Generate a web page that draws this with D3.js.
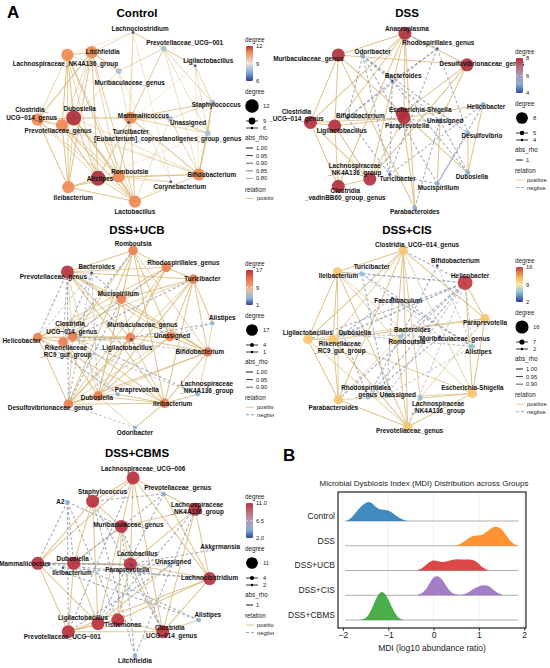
<!DOCTYPE html>
<html>
<head>
<meta charset="utf-8">
<script src="https://cdn.jsdelivr.net/npm/d3@7"></script>
<style>
body{margin:0;background:#fff}
svg{display:block;font-family:"Liberation Sans",Arial,sans-serif}
</style>
</head>
<body>
<svg width="550" height="668"></svg>
<script>
"use strict";

// ---- A: co-occurrence networks. node = [name, layout x, layout y, degree]
var ctlNodes = [
  ["Lachnoclostridium", 0.09, 0.94, 6],
  ["Prevotellaceae_UCG\u2212001", 0.43, 0.76, 8],
  ["Ligilactobacillus", 0.78, 0.57, 6],
  ["Litchfieldia", -0.37, 0.72, 11],
  ["Lachnospiraceae_NK4A136_group", -0.64, 0.69, 11],
  ["Muribaculaceae_genus", -0.07, 0.51, 8],
  ["Staphylococcus", 0.97, 0.16, 8],
  ["Clostridia_\nUCG\u2212014_genus", -0.97, -0.03, 11],
  ["Dubosiella", -0.57, -0.01, 12],
  ["Prevotellaceae_genus", -0.70, -0.09, 11],
  ["Mammaliicoccus", 0.06, -0.01, 11],
  ["Unassigned", 0.50, -0.02, 8],
  ["Turicibacter", 0.04, -0.06, 6],
  ["[Eubacterium]_coprostanoligenes_group_genus", 0.92, -0.18, 8],
  ["Romboutsia", -0.07, -0.66, 11],
  ["Alistipes", -0.30, -0.68, 12],
  ["Bifidobacterium", 0.82, -0.64, 11],
  ["Corynebacterium", 0.51, -0.72, 6],
  ["Ileibacterium", -0.63, -0.78, 11],
  ["Lactobacillus", 0.11, -0.94, 11]
];
var ctlPos = "8-4 8-3:.9 8-7 8-9 8-10:.95 8-14 8-15 8-18:.9 8-19 8-16:.85 8-5:.85 8-11:.8 15-4:.9 15-3 15-7:.95 15-9 15-14 15-18 15-19:.95 15-16 15-10:.9 15-17:.8 15-12:.85 15-13:.8 4-3 4-7:.9 4-9 4-18:.95 4-19:.9 4-14 4-0:.8 4-5:.85 3-0:.85 3-7 3-9:.9 3-18 3-19:.95 3-14:.9 3-5 7-9 7-18 7-19:.9 7-16:.85 9-18 9-19 9-14:.95 9-16:.8 10-0:.85 10-1:.9 10-6 10-11 10-13:.9 10-16 10-19 10-14 14-16:.9 14-18 14-19 14-17:.85 16-1:.85 16-2:.8 16-6 16-13 16-19:.95 16-11:.9 18-19 19-17:.8 19-11:.85 1-2 1-6:.9 1-12:.8 1-13:.85 1-0 2-6:.9 2-13:.85 2-12:.8 6-11:.9 6-13 0-12:.8 0-17:.8 5-1:.9 5-12:.85 5-17:.8 11-13:.95";
var ctlNeg = "";

var dssNodes = [
  ["Anaeroplasma", 0.11, 0.93, 8],
  ["Rhodospirillales_genus", 0.47, 0.76, 4],
  ["Odoribacter", -0.36, 0.68, 5],
  ["Muribaculaceae_genus", -0.63, 0.69, 8],
  ["Desulfovibrionaceae_genus", 0.80, 0.58, 8],
  ["Bacteroides", -0.03, 0.40, 4],
  ["Helicobacter", 0.98, 0.14, 5],
  ["Escherichia-Shigella", 0.08, 0.04, 8],
  ["Paraprevotella", 0.10, -0.01, 8],
  ["Clostridia\n_UCG\u2212014_genus", -0.94, -0.06, 8],
  ["Bifidobacterium", -0.53, -0.01, 4],
  ["Ligilactobacillus", -0.67, -0.10, 8],
  ["Unassigned", 0.50, -0.04, 5],
  ["Desulfovibrio", 0.81, -0.18, 5],
  ["Lachnospiraceae\n_NK4A136_group", -0.28, -0.69, 8],
  ["Turicibacter", -0.06, -0.64, 4],
  ["Dubosiella", 0.81, -0.62, 5],
  ["Mucispirillum", 0.47, -0.74, 5],
  ["Clostridia\n_vadinBB60_group_genus", -0.63, -0.77, 8],
  ["Parabacteroides", 0.22, -1.01, 5]
];
var dssPos = "0-3 0-4 0-9 0-11 0-14 0-18 0-8 3-9 3-11 3-4 3-7 4-7 4-14 4-12 9-11 9-18 9-14 9-8 11-18 11-14 11-8 14-18 14-8 7-8 7-19 7-16 8-6 19-3 6-16 12-17 13-16 0-19";
var dssNeg = "2-5 2-15 2-10 2-17 1-5 1-10 1-13 5-10 5-15 5-16 10-15 10-12 12-16 6-17 6-15 13-17 15-17 19-12 1-15 2-13 0-1 2-12";

var ucbNodes = [
  ["Romboutsia", 0.09, 0.93, 12],
  ["Rhodospirillales_genus", 0.46, 0.74, 12],
  ["Bacteroides", -0.37, 0.68, 1],
  ["Prevotellaceae_genus", -0.64, 0.69, 17],
  ["Turicibacter", 0.76, 0.61, 12],
  ["Mucispirillum", -0.04, 0.39, 12],
  ["Alistipes", 0.97, 0.12, 4],
  ["Clostridia_\nUCG\u2212014_genus", -0.58, -0.03, 12],
  ["Muribaculaceae_genus", 0.06, -0.04, 12],
  ["Ligilactobacillus", 0.07, -0.06, 1],
  ["Unassigned", 0.50, -0.03, 12],
  ["Helicobacter", -0.97, -0.04, 12],
  ["Rikenellaceae\n_RC9_gut_group", -0.69, -0.09, 12],
  ["Bifidobacterium", 0.92, -0.20, 12],
  ["Lachnospiraceae\n_NK4A136_group", 0.81, -0.67, 4],
  ["Paraprevotella", -0.08, -0.67, 4],
  ["Dubosiella", -0.30, -0.69, 12],
  ["Desulfovibrionaceae_genus", -0.63, -0.78, 12],
  ["Ileibacterium", 0.44, -0.77, 12],
  ["Odoribacter", 0.11, -1.04, 4]
];
var ucbPos = "3-0 3-1:.95 3-4 3-5 3-7:.9 3-8 3-10:.95 3-13 3-16:.9 3-18 0-1 0-5:.95 0-7 0-10 0-16:.9 0-17 0-18 0-13:.95 1-4 1-5 1-8:.9 1-11 1-16 1-17:.95 4-5 4-10 4-11:.9 4-13 4-16 4-17:.95 4-18 5-7 5-8 5-11:.9 5-13 5-16 7-11 7-12 7-17:.95 7-18 7-10 8-11:.9 8-12 8-13 8-17 8-18:.95 10-13 10-16 10-17:.9 11-12 11-17 11-18:.95 12-16 13-16:.9 13-17 13-18 16-17 16-18:.95 17-18 19-16:.9 19-18 6-13:.9 6-4 14-13:.9 14-18 15-16:.95 15-18 9-8:.9";
var ucbNeg = "3-11 3-12:.95 3-17 2-11:.9 2-12 2-17:.95 2-5 6-10:.9 6-8 14-12:.9 14-7 15-11 15-12:.95 9-7 19-17:.9 0-12 1-12:.95 4-12 7-13:.9 5-17 2-16:.9";

var cisNodes = [
  ["Clostridia_UCG\u2212014_genus", 0.09, 0.93, 11],
  ["Bifidobacterium", 0.47, 0.76, 2],
  ["Turicibacter", -0.37, 0.67, 6],
  ["Ileibacterium", -0.64, 0.69, 11],
  ["Helicobacter", 0.78, 0.57, 16],
  ["Faecalibaculum", -0.03, 0.40, 2],
  ["Paraprevotella", 1.00, 0.17, 11],
  ["Ligilactobacillus", -0.97, -0.06, 11],
  ["Dubosiella", -0.58, 0.00, 6],
  ["Bacteroides", 0.06, -0.03, 6],
  ["Romboutsia", 0.01, -0.07, 9],
  ["Rikenellaceae\n_RC9_gut_group", -0.69, -0.06, 11],
  ["Muribaculaceae_genus", 0.50, -0.03, 2],
  ["Alistipes", 0.86, -0.14, 6],
  ["Escherichia-Shigella", 0.86, -0.66, 11],
  ["Rhodospirillales\n_genus", -0.30, -0.70, 6],
  ["Unassigned", -0.09, -0.68, 6],
  ["Lachnospiraceae\n_NK4A136_group", 0.28, -0.71, 6],
  ["Parabacteroides", -0.63, -0.73, 11],
  ["Prevotellaceae_genus", 0.14, -1.03, 11]
];
var cisPos = "0-3 0-7 0-11:.95 0-18 0-19 0-14:.9 0-6 0-17:.95 3-7 3-11 3-18:.95 3-19 3-14:.9 7-11 7-18 7-19:.95 7-6:.9 11-18 11-19 11-14:.95 11-6 18-19 18-14:.9 19-14 19-17:.95 6-14 6-17:.9 14-17 10-18:.9 10-0 10-3:.95 10-19 4-6 4-14 2-3:.9 9-10:.95";
var cisNeg = "4-2 4-8:.95 4-9 4-13:.9 4-15 4-16:.95 4-0 4-3:.9 4-7 4-11:.95 4-18 4-19:.9 1-9 1-13:.9 5-8 5-16:.95 12-15 12-2:.9 2-13 8-13:.95 9-15 16-13:.9 2-16 8-15 12-8:.9 5-13";

var cbmsNodes = [
  ["Lachnospiraceae_UCG\u2212006", 0.09, 0.88, 11],
  ["Prevotellaceae_genus", 0.43, 0.70, 4],
  ["Staphylococcus", -0.36, 0.62, 11],
  ["A2", -0.64, 0.61, 4],
  ["Lachnospiraceae\n_NK4A136_group", 0.78, 0.53, 11],
  ["Muribaculaceae_genus", -0.04, 0.34, 11],
  ["Akkermansia", 0.98, 0.08, 2],
  ["Lactobacillus", 0.06, -0.08, 11],
  ["Paraprevotella", 0.07, -0.09, 2],
  ["Unassigned", 0.50, -0.09, 4],
  ["Dubosiella", -0.57, -0.07, 11],
  ["Ileibacterium", -0.69, -0.12, 2],
  ["Mammaliicoccus", -0.97, -0.07, 11],
  ["Lachnoclostridium", 0.94, -0.24, 11],
  ["Alistipes", 0.82, -0.70, 4],
  ["Ligilactobacillus", -0.30, -0.74, 11],
  ["Tistlemonas", -0.08, -0.70, 11],
  ["Clostridia\n_UCG\u2212014_genus", 0.42, -0.83, 11],
  ["Prevotellaceae_UCG\u2212001", -0.63, -0.83, 11],
  ["Litchfieldia", 0.11, -1.10, 4]
];
var cbmsPos = "0-2 0-4 0-5 0-13 0-17 0-12 0-7 2-5 2-10 2-12 2-15 4-5 4-13 4-17 4-7 5-10 5-7 5-15 5-16 7-10 7-12 7-13 7-16 7-17 10-12 10-15 10-18 12-15 12-18 13-17 13-16 13-18 15-16 15-18 16-17 16-18 17-18 17-14 1-13 9-15";
var cbmsNeg = "3-10 3-12 3-18 3-16 3-5 1-2 1-15 1-10 9-12 9-18 14-12 14-10 19-2 19-5 19-4 6-7 8-12 11-13 0-18 2-17 4-15 12-13 5-17";

// ---- B: MDI ridgelines, [MDI, relative density]
var mdiGroups = ["Control", "DSS", "DSS+UCB", "DSS+CIS", "DSS+CBMS"];
var mdiTicks = [-2, -1, 0, 1, 2];
var mdiControl = [[-1.96,0],[-1.88,0.04],[-1.8,0.14],[-1.7,0.34],[-1.6,0.52],[-1.5,0.64],[-1.43,0.68],[-1.35,0.62],[-1.27,0.5],[-1.2,0.43],[-1.1,0.4],[-1.02,0.38],[-0.93,0.31],[-0.85,0.21],[-0.75,0.11],[-0.65,0.04],[-0.55,0]];
var mdiDSS = [[0.47,0],[0.57,0.05],[0.67,0.15],[0.77,0.27],[0.87,0.35],[0.97,0.37],[1.05,0.38],[1.15,0.47],[1.25,0.6],[1.35,0.68],[1.43,0.66],[1.52,0.55],[1.6,0.38],[1.68,0.2],[1.76,0.08],[1.86,0]];
var mdiUCB = [[-0.38,0],[-0.28,0.06],[-0.18,0.18],[-0.08,0.31],[0,0.36],[0.1,0.33],[0.2,0.3],[0.3,0.33],[0.42,0.38],[0.53,0.4],[0.65,0.39],[0.78,0.39],[0.88,0.37],[0.98,0.27],[1.08,0.12],[1.17,0.04],[1.25,0]];
var mdiCIS = [[-0.38,0],[-0.28,0.06],[-0.18,0.2],[-0.08,0.45],[0,0.63],[0.06,0.68],[0.14,0.63],[0.24,0.44],[0.34,0.2],[0.44,0.06],[0.54,0.02],[0.64,0.03],[0.76,0.1],[0.88,0.22],[1,0.32],[1.12,0.36],[1.22,0.32],[1.32,0.2],[1.42,0.08],[1.55,0]];
var mdiCBMS = [[-1.62,0],[-1.52,0.05],[-1.44,0.18],[-1.36,0.42],[-1.28,0.72],[-1.2,0.94],[-1.15,1],[-1.08,0.94],[-1,0.74],[-0.92,0.46],[-0.84,0.22],[-0.76,0.07],[-0.66,0]];

// label nudges (px) for each node label, same order as the nodes
var ctlNudge = [[7,-4],[21,-6],[13,-5],[11,0],[-2,9],[11,12],[4,2],[-6,-6],[6,-9],[-4,6],[13,-2],[18,4],[2,9],[-40,6],[11,-5],[2,1],[13,0],[9,5],[5,11],[0,10]];
var dssNudge = [[2,-5],[1,-6],[10,-4],[-30,4],[15,-1],[11,-5],[3,2],[18,-4],[3,8],[-14,-7],[13,-2],[7,5],[5,0],[14,3],[-15,-10],[8,4],[4,4],[1,4],[7,8],[0,4]];
var ucbNudge = [[0,-7],[17,-5],[5,-6],[-14,5],[9,0],[-3,-5],[10,-5],[-1,-9],[12,-13],[-4,8],[2,-1],[-16,3],[3,9],[-8,0],[9,-7],[19,-5],[-1,2],[-18,4],[8,0],[0,5]];
var cisNudge = [[14,-6],[18,-5],[10,-7],[1,4],[5,-7],[6,3],[0,4],[0,-7],[12,-1],[12,-7],[11,1],[7,8],[15,2],[6,5],[0,-6],[-2,-6],[11,0],[18,9],[-5,8],[2,4]];
var cbmsNudge = [[10,-9],[14,-6],[10,-9],[-7,0],[2,-1],[7,-2],[7,-3],[7,-10],[-4,5],[3,-3],[-1,-5],[9,5],[-13,0],[0,-1],[9,-5],[-15,-6],[5,5],[7,0],[-6,5],[0,5]];

var panels = [
  {id:"ctl", title:"Control", nodes:ctlNodes, pos:ctlPos, neg:ctlNeg, nudge:ctlNudge, ox:0, oy:0, clip:true, legTop:40,
   dom:[6,12], stops:[[6,"#2c3d94"],[7.5,"#80aed6"],[9,"#ebe3dc"],[11,"#ef8a52"],[12,"#ad2f3a"]], rMax:7.5, rExp:2.2,
   bar:["12","9","6"], size:[12,9,6], rho:["1.00","0.95","0.90","0.85","0.80"]},
  {id:"dss", title:"DSS", nodes:dssNodes, pos:dssPos, neg:dssNeg, nudge:dssNudge, ox:270, oy:0, clip:false, legTop:52,
   dom:[4,8], stops:[[4,"#2d4aa0"],[5,"#86aed6"],[6,"#ab9db6"],[7,"#b46a78"],[8,"#b1313f"]], rMax:6.5, rExp:1.4,
   bar:["8","6","4"], size:[8,5,4], rho:["1"]},
  {id:"ucb", title:"DSS+UCB", nodes:ucbNodes, pos:ucbPos, neg:ucbNeg, nudge:ucbNudge, ox:0, oy:217, clip:true, legTop:47,
   dom:[1,17], stops:[[1,"#2c3e96"],[4,"#8ab5da"],[8,"#efbc9e"],[12,"#ee7f51"],[17,"#b2353c"]], rMax:6.5, rExp:1.1,
   bar:["17","9","1"], size:[17,4,1], rho:["1.00","0.95","0.90"]},
  {id:"cis", title:"DSS+CIS", nodes:cisNodes, pos:cisPos, neg:cisNeg, nudge:cisNudge, ox:270, oy:217, clip:false, legTop:44,
   dom:[2,16], stops:[[2,"#313695"],[6,"#8ec3de"],[9,"#fbe89f"],[12,"#f5b457"],[16,"#c2383e"]], rMax:7.3, rExp:1.43,
   bar:["16","9","2"], size:[16,7,2], rho:["1.00","0.95","0.90"]},
  {id:"cbms", title:"DSS+CBMS", nodes:cbmsNodes, pos:cbmsPos, neg:cbmsNeg, nudge:cbmsNudge, ox:0, oy:440, clip:true, legTop:57,
   dom:[2,11], stops:[[2,"#2c3f9a"],[4,"#85aed6"],[6.5,"#b69db8"],[9,"#bb6470"],[11,"#b8323f"]], rMax:6.5, rExp:1.17,
   bar:["11.0","6.5","2.0"], size:[11,4,2], rho:["1"]}
];

var svg = d3.select("svg");
var defs = svg.append("defs");
var POS = "#dabb7a", NEG = "#939cb0";
var wS = d3.scaleLinear([0.8, 1], [0.4, 1.05]);

function parseEdges(str, sign) {
  if (!str.trim()) return [];
  return str.trim().split(/\s+/).map(function(t) {
    var parts = t.split(":"), ab = parts[0].split("-").map(Number);
    return {a: ab[0], b: ab[1], rho: parts[1] ? +parts[1] : 1, sign: sign};
  });
}

panels.forEach(function(p) {
  var g = svg.append("g");
  if (p.clip) {
    defs.append("clipPath").attr("id", "clip-" + p.id)
      .append("rect").attr("x", -5).attr("y", p.oy - 5).attr("width", 279).attr("height", 240);
    g.attr("clip-path", "url(#clip-" + p.id + ")");
  }
  var xS = d3.scaleLinear([-1, 1], [p.ox + 35, p.ox + 215]);
  var yS = d3.scaleLinear([-1, 1], [p.oy + 207, p.oy + 27]);
  var color = d3.scaleLinear().domain(p.stops.map(function(s){return s[0];}))
    .range(p.stops.map(function(s){return s[1];})).interpolate(d3.interpolateRgb).clamp(true);
  var rS = d3.scalePow().exponent(p.rExp).domain(p.dom).range([1.3, p.rMax]);
  var edges = parseEdges(p.pos, 1).concat(parseEdges(p.neg, -1));

  g.append("text").attr("x", p.ox + 137).attr("y", p.oy + 13).attr("dy", "0.35em")
    .attr("text-anchor", "middle").attr("font-size", 11.5).attr("font-weight", "bold").text(p.title);

  g.append("g").selectAll("line").data(edges).join("line")
    .attr("x1", function(d){return xS(p.nodes[d.a][1]);})
    .attr("y1", function(d){return yS(p.nodes[d.a][2]);})
    .attr("x2", function(d){return xS(p.nodes[d.b][1]);})
    .attr("y2", function(d){return yS(p.nodes[d.b][2]);})
    .attr("stroke", function(d){return d.sign > 0 ? POS : NEG;})
    .attr("stroke-width", function(d){return wS(d.rho);})
    .attr("stroke-dasharray", function(d){return d.sign > 0 ? null : "3,2";})
    .attr("stroke-opacity", 0.85);

  g.append("g").selectAll("circle").data(p.nodes).join("circle")
    .attr("cx", function(d){return xS(d[1]);})
    .attr("cy", function(d){return yS(d[2]);})
    .attr("r", function(d){return rS(d[3]);})
    .attr("fill", function(d){return color(d[3]);})
    .attr("fill-opacity", 0.92);

  g.append("g").selectAll("text").data(p.nodes).join("text")
    .attr("font-size", 6.4).attr("font-weight", "bold").attr("text-anchor", "middle").attr("fill", "#111")
    .each(function(d, i) {
      var lines = d[0].split("\n");
      var cx = xS(d[1]) + p.nudge[i][0], cy = yS(d[2]) + p.nudge[i][1];
      var t = d3.select(this);
      lines.forEach(function(s, k) {
        t.append("tspan").attr("x", cx).attr("y", cy + (k - (lines.length - 1) / 2) * 7.2)
          .attr("dy", "0.35em").text(s);
      });
    });

  // legend
  var x0 = p.ox + 245, y0 = p.oy + p.legTop;
  var lg = g.append("g").attr("fill", "#222");
  function txt(x, y, s, fs) {
    lg.append("text").attr("x", x).attr("y", y).attr("dy", "0.35em").attr("font-size", fs || 5.8).text(s);
  }
  txt(x0, y0, "degree", 6.3);
  var gid = "grad-" + p.id;
  var grad = defs.append("linearGradient").attr("id", gid)
    .attr("x1", 0).attr("x2", 0).attr("y1", 1).attr("y2", 0);
  d3.range(0, 1.0001, 0.05).forEach(function(t) {
    grad.append("stop").attr("offset", t).attr("stop-color", color(p.dom[0] + t * (p.dom[1] - p.dom[0])));
  });
  var barTop = y0 + 6, barH = 35;
  lg.append("rect").attr("x", x0 + 1).attr("y", barTop).attr("width", 7).attr("height", barH)
    .attr("fill", "url(#" + gid + ")");
  var bS = d3.scaleLinear(p.dom, [barTop + barH, barTop]);
  p.bar.forEach(function(v) {
    var yy = bS(+v);
    lg.append("line").attr("x1", x0 + 1).attr("x2", x0 + 2.5).attr("y1", yy).attr("y2", yy).attr("stroke", "#fff").attr("stroke-width", 0.6);
    lg.append("line").attr("x1", x0 + 6.5).attr("x2", x0 + 8).attr("y1", yy).attr("y2", yy).attr("stroke", "#fff").attr("stroke-width", 0.6);
    txt(x0 + 11, yy, v);
  });
  txt(x0, y0 + 52, "degree", 6.3);
  var sizeY = [y0 + 66, y0 + 81, y0 + 88];
  p.size.forEach(function(v, k) {
    lg.append("line").attr("x1", x0 + 1).attr("x2", x0 + 13).attr("y1", sizeY[k]).attr("y2", sizeY[k])
      .attr("stroke", "#000").attr("stroke-width", 0.8);
    lg.append("circle").attr("cx", x0 + 7).attr("cy", sizeY[k]).attr("r", rS(v) * 0.9).attr("fill", "#000");
    txt(x0 + 18, sizeY[k], v);
  });
  var ry = y0 + 98;
  txt(x0, ry, "abs_rho", 6.3);
  p.rho.forEach(function(v, k) {
    var yy = ry + 10 + k * 7.6;
    lg.append("line").attr("x1", x0 + 1).attr("x2", x0 + 8).attr("y1", yy).attr("y2", yy)
      .attr("stroke", "#222").attr("stroke-width", wS(+v));
    txt(x0 + 11, yy, v);
  });
  var rel = ry + 10 + (p.rho.length - 1) * 7.6 + 11;
  txt(x0, rel, "relation", 6.3);
  var rels = p.neg ? [["positive", POS, null], ["negtive", NEG, "3,2"]] : [["positive", POS, null]];
  rels.forEach(function(r, k) {
    var yy = rel + 9 + k * 7.5;
    lg.append("line").attr("x1", x0 + 1).attr("x2", x0 + 9).attr("y1", yy).attr("y2", yy)
      .attr("stroke", r[1]).attr("stroke-width", 0.9).attr("stroke-dasharray", r[2]);
    txt(x0 + 12, yy, r[0]);
  });
});

svg.append("text").attr("x", 7).attr("y", 18).attr("font-size", 17).attr("font-weight", "bold").text("A");
svg.append("text").attr("x", 283).attr("y", 461).attr("font-size", 17).attr("font-weight", "bold").text("B");

// ---- panel B
var mdiSeries = [mdiControl, mdiDSS, mdiUCB, mdiCIS, mdiCBMS];
var mdiColors = ["#1f77b4", "#ff7f0e", "#d62728", "#9467bd", "#2ca02c"];
var bx = d3.scaleLinear([-2.11, 2.04], [338, 526]);
var by = d3.scalePoint().domain(mdiGroups).range([521, 620]);
var bh = d3.scaleLinear([0, 1], [0, 28]);
var gb = svg.append("g");

gb.append("text").attr("x", 424).attr("y", 483).attr("dy", "0.35em").attr("text-anchor", "middle")
  .attr("font-size", 8).attr("fill", "#222").text("Microbial Dysbiosis Index (MDI) Distribution across Groups");

gb.append("g").selectAll("line").data(mdiTicks).join("line")
  .attr("x1", function(d){return bx(d);}).attr("x2", function(d){return bx(d);})
  .attr("y1", 492).attr("y2", 628).attr("stroke", "#e6e6e6").attr("stroke-width", 0.6);

mdiGroups.forEach(function(gname, i) {
  var base = by(gname);
  gb.append("line").attr("x1", bx(-1.95)).attr("x2", bx(1.87)).attr("y1", base).attr("y2", base)
    .attr("stroke", "#9a9a9a").attr("stroke-width", 0.8);
  var area = d3.area().curve(d3.curveMonotoneX)
    .x(function(d){return bx(d[0]);}).y0(base).y1(function(d){return base - bh(d[1]);});
  gb.append("path").datum(mdiSeries[i]).attr("d", area)
    .attr("fill", mdiColors[i]).attr("fill-opacity", 0.85);
  gb.append("text").attr("x", 335).attr("y", base - 5).attr("dy", "0.35em").attr("text-anchor", "end")
    .attr("font-size", 8.5).attr("fill", "#222").text(gname);
});

gb.append("rect").attr("x", 338).attr("y", 492).attr("width", 188).attr("height", 136)
  .attr("fill", "none").attr("stroke", "#222").attr("stroke-width", 1.2);

var ax = gb.append("g").attr("transform", "translate(0,628)")
  .call(d3.axisBottom(bx).tickValues(mdiTicks).tickSize(2.5).tickPadding(1.5).tickFormat(d3.format("d")));
ax.select(".domain").remove();
ax.selectAll("text").attr("font-size", 8.5).attr("fill", "#222").attr("font-family", "Liberation Sans, Arial, sans-serif");
ax.selectAll("line").attr("stroke", "#222");

gb.append("text").attr("x", 432).attr("y", 648).attr("dy", "0.35em").attr("text-anchor", "middle")
  .attr("font-size", 8.5).attr("fill", "#222").text("MDI (log10 abundance ratio)");
</script>
</body>
</html>
